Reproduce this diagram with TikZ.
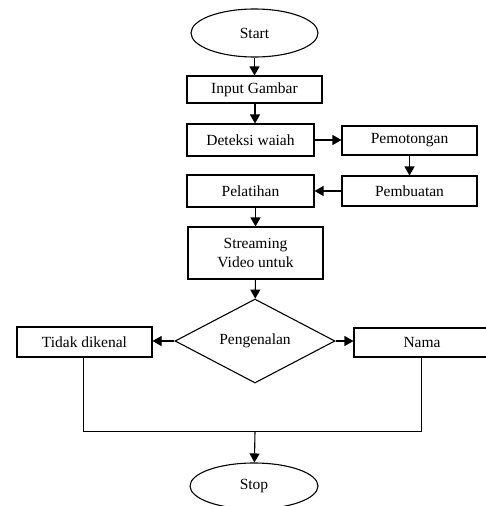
\documentclass[tikz,border=0pt]{standalone}
\usepackage{fontspec}
\setmainfont{Liberation Serif}
\usetikzlibrary{shapes.geometric,arrows.meta}
\begin{document}
\begin{tikzpicture}[x=1pt,y=-1pt,
  every node/.style={font=\fontsize{15.5}{19}\selectfont, inner sep=0pt, align=center},
  proc/.style={draw, line width=1.1pt, rectangle},
  term/.style={draw, line width=1.1pt, ellipse, minimum width=127pt, minimum height=48pt},
  decide/.style={draw, line width=1.1pt, diamond, aspect=1.9, minimum width=160pt, minimum height=84pt},
  flow/.style={line width=1.1pt, -{Triangle[length=9pt,width=10pt]}},
  plain/.style={line width=1.1pt}]
\useasboundingbox (0,0) rectangle (486,506);
\node[term] (start) at (254.5,33) {Start};
\node[proc, minimum width=135pt, minimum height=27pt] (input) at (254.5,89.5) {Input Gambar};
\node[proc, minimum width=127pt, minimum height=32pt] (deteksi) at (250.5,140) {Deteksi waiah};
\node[proc, minimum width=135pt, minimum height=29pt] (potong) at (409.5,140.5) {Pemotongan};
\node[proc, minimum width=135pt, minimum height=30pt] (buat) at (409.5,191) {Pembuatan};
\node[proc, minimum width=127pt, minimum height=32pt] (latih) at (250.5,191) {Pelatihan};
\node[proc, minimum width=135pt, minimum height=52pt] (stream) at (255.5,253) {Streaming\\Video untuk};
\node[decide] (kenal) at (255,341) {Pengenalan};
\node[proc, minimum width=135pt, minimum height=30pt] (tidak) at (84.5,342) {Tidak dikenal};
\node[proc, minimum width=136pt, minimum height=29pt] (nama) at (422,342.5) {Nama};
\node[term, minimum width=128pt, minimum height=46pt] (stop) at (254,486) {Stop};
\coordinate (j) at (255,431.5);
\draw[flow] (start) -- (input);
\draw[flow] (input.south -| 255,0) -- (deteksi.north -| 255,0);
\draw[flow] (deteksi.east) -- (deteksi.east -| potong.west);
\draw[flow] (potong) -- (buat);
\draw[flow] (buat) -- (latih);
\draw[flow] (latih.south -| stream.north) -- (stream.north);
\draw[flow] (stream) -- (kenal);
\draw[flow] (kenal.west) -- (tidak.east |- kenal.west);
\draw[flow] (kenal.east) -- (nama.west |- kenal.east);
\draw[plain] (tidak.south -| 83.5,0) |- (j) -| (nama.south -| 421.5,0);
\draw[flow] (j) -- (stop);
\end{tikzpicture}
\end{document}
